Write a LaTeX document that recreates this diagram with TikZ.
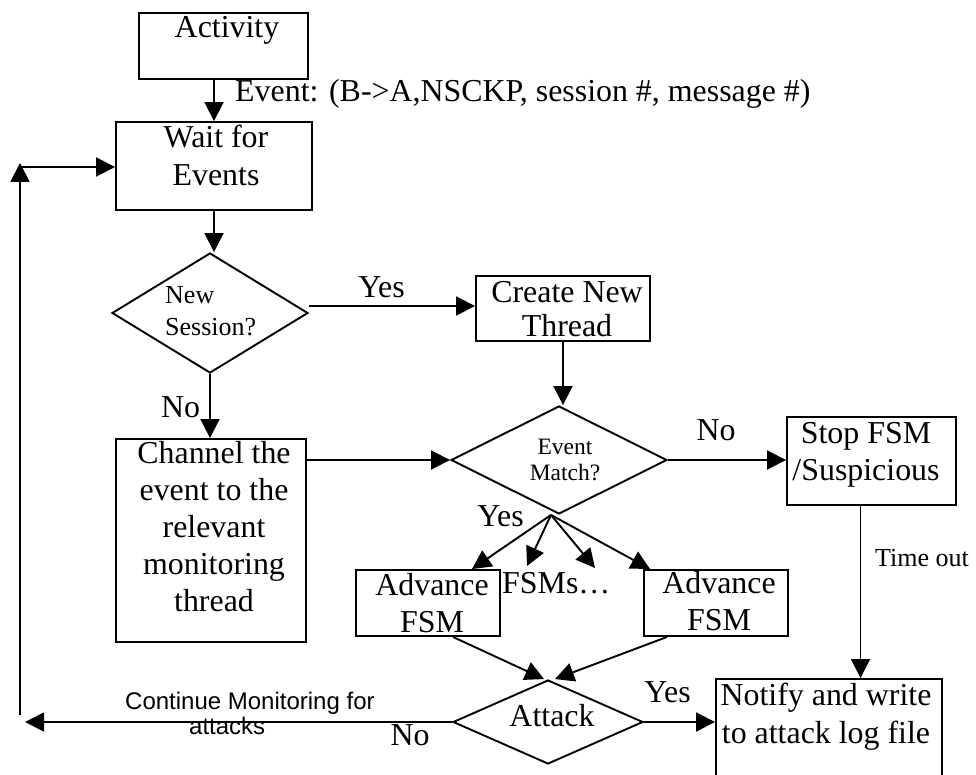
\documentclass[tikz,border=0pt]{standalone}
\usepackage{fontspec}
\setmainfont{Liberation Serif}
\newfontfamily\labsans{Liberation Sans}
\usetikzlibrary{arrows.meta,shapes.geometric}
\tikzset{
  box/.style={draw, rectangle, line width=1.9pt, inner sep=0pt},
  dia/.style={draw, diamond, line width=1.9pt, inner sep=0pt},
  arr/.style={line width=1.9pt, -{Triangle[length=19pt,width=19pt]}},
  big/.style={inner sep=0pt, font=\fontsize{31.9}{37}\selectfont},
  mid/.style={inner sep=0pt, font=\fontsize{26}{32}\selectfont},
  sml/.style={inner sep=0pt, font=\fontsize{23.5}{26}\selectfont},
  sanslab/.style={inner sep=0pt, font=\labsans\fontsize{24}{25}\selectfont},
}
\begin{document}
\begin{tikzpicture}[x=1pt,y=-1pt]
\useasboundingbox (0,0) rectangle (976,775);
\clip (0,0) rectangle (976,775);

% shapes
\node[box, minimum width=169pt, minimum height=66pt] (act) at (223.5,46) {};
\node[box, minimum width=196pt, minimum height=88pt] (wait) at (214,166) {};
\node[dia, minimum width=196pt, minimum height=120pt] (ns) at (210,313) {};
\node[box, minimum width=174pt, minimum height=65pt] (create) at (563,308.5) {};
\node[box, minimum width=190pt, minimum height=203pt] (chan) at (211,540.5) {};
\node[dia, minimum width=216pt, minimum height=108pt] (em) at (559,460) {};
\node[box, minimum width=169pt, minimum height=88pt] (stop) at (871.5,461) {};
\node[box, minimum width=144pt, minimum height=66pt] (adv1) at (428,603) {};
\node[box, minimum width=144pt, minimum height=66pt] (adv2) at (716,603) {};
\node[dia, minimum width=190pt, minimum height=84pt] (atk) at (548,722) {};
\node[box, minimum width=226pt, minimum height=121pt] (notify) at (829,739.5) {};

% texts (base anchor = baseline of last line)
\node[big, anchor=base] (tAct) at (227,38) {Activity};
\node[big, anchor=base west] (tEvent) at (235,102) {Event: (B->A,NSCKP, session \#, message \#)};
\node[big, anchor=base, align=center, font=\fontsize{31.9}{38}\selectfont] (tWait) at (216,186) {Wait for\\Events};
\node[mid, anchor=base west, align=left] (tNS) at (165,335) {New\\Session?};
\node[big, anchor=base] (lYes1) at (381.5,298) {Yes};
\node[big, anchor=base, align=center, font=\fontsize{31.9}{34}\selectfont] (tCreate) at (567,336) {Create New\\Thread};
\node[big, anchor=base] (lNo1) at (180.5,417) {No};
\node[big, anchor=base, align=center, font=\fontsize{31.9}{36.8}\selectfont] (tChan) at (214,611) {Channel the\\event to the\\relevant\\monitoring\\thread};
\node[sml, anchor=base, align=center] (tEM) at (565,480) {Event\\Match?};
\node[big, anchor=base] (lNo2) at (716,440) {No};
\node[big, anchor=base, align=center] (tStop) at (866,480) {Stop FSM\\/Suspicious};
\node[big, anchor=base] (lYes2) at (500.5,526) {Yes};
\node[mid, anchor=base west] (lTime) at (875,566) {Time out};
\node[big, anchor=base, align=center] (tAdv1) at (432,632) {Advance\\FSM};
\node[big, anchor=base, align=center] (tAdv2) at (719,630) {Advance\\FSM};
\node[big, anchor=base west] (tFSMs) at (502,593) {FSMs…};
\node[big, anchor=base] (tAtk) at (552,726) {Attack};
\node[big, anchor=base] (lYes3) at (667.5,702) {Yes};
\node[big, anchor=base] (lNo3) at (410,745) {No};
\node[big, anchor=base, align=center, font=\fontsize{31.9}{38}\selectfont] (tNotify) at (826,743) {Notify and write\\to attack log file};
\node[sanslab, anchor=base west, align=left] (lCont) at (125,734) {Continue Monitoring for\\\hspace*{64pt}attacks};

% free ends
\coordinate (fan) at ([xshift=-8pt]em.south);
\coordinate (f2) at (527,566);
\coordinate (f3) at (595,568);
\coordinate (retB) at (25,722);
\coordinate (retBot) at (20,715);
\coordinate (retTop) at (20,163);
\coordinate (retC) at (20,167);

% connectors
\draw[arr] (act.south -| wait.north) -- (wait.north);
\draw[arr] (wait.south) -- (wait.south |- ns.north);
\draw[arr] ([yshift=7pt]ns.east) -- ([yshift=7pt]ns.east -| create.west);
\draw[arr] (ns.south) -- (ns.south |- chan.north);
\draw[arr] (create.south) -- (create.south |- em.north);
\draw[arr] (chan.east |- em.west) -- (em.west);
\draw[arr] (em.east) -- (em.east -| stop.west);
\draw[arr] ([xshift=-11pt]stop.south) -- ([xshift=-11pt]stop.south |- notify.north);
\draw[arr] (fan) -- ([xshift=44pt]adv1.north);
\draw[arr] (fan) -- (f2);
\draw[arr] (fan) -- (f3);
\draw[arr] (fan) -- ([xshift=-66pt]adv2.north);
\draw[arr] ([xshift=25pt]adv1.south) -- ([xshift=-4pt]atk.north);
\draw[arr] ([xshift=-49pt]adv2.south) -- ([xshift=7pt]atk.north);
\draw[arr] (atk.east) -- (atk.east -| notify.west);
\draw[arr] (atk.west) -- (retB);
\draw[arr] (retBot) -- (retTop);
\draw[arr] (retC) -- (retC -| wait.west);
\end{tikzpicture}
\end{document}
